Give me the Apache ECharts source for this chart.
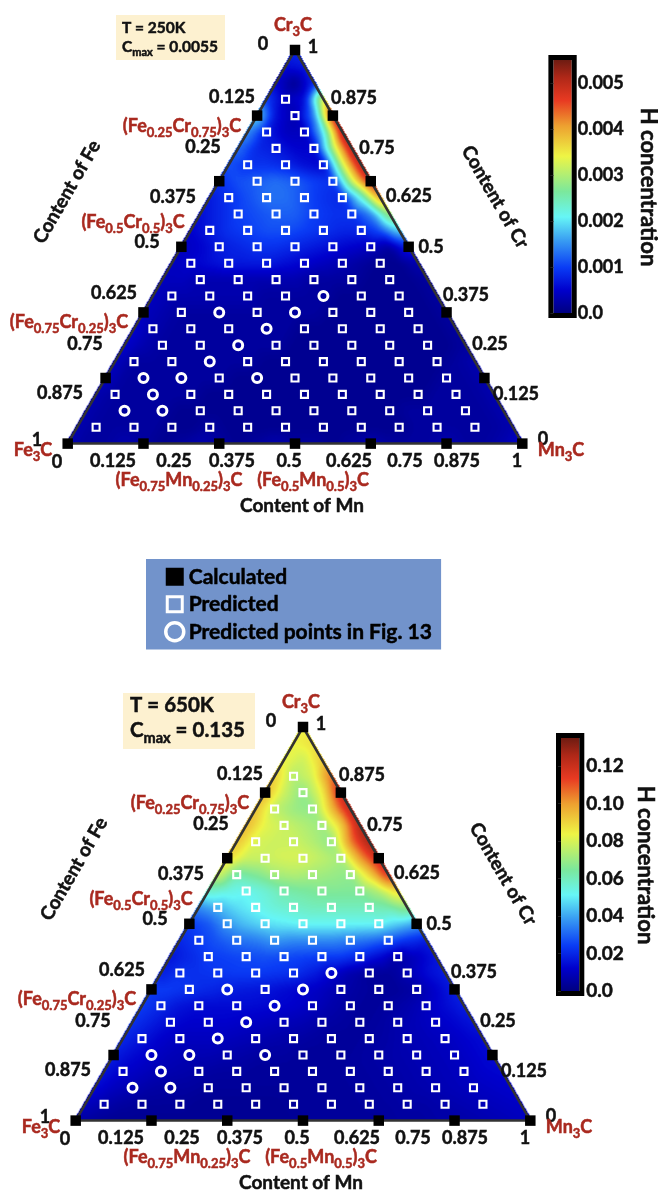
<!DOCTYPE html>
<html>
<head>
<meta charset="utf-8">
<style>html,body{margin:0;padding:0;background:#fff}#c{width:658px;height:1191px}</style>
<script src="https://cdn.jsdelivr.net/npm/echarts@6/dist/echarts.min.js"></script>
</head>
<body>
<div id="c"></div>
<script>
// H concentration at ternary lattice nodes, read by eye. Rows run from Cr = 24/24 (apex) down to Cr = 0,
// each row from Mn = 0 (left edge) to the right edge, step 1/24.
const field250K = [ // units of 1e-4
[8],
[6,7],
[5,1,8],
[10,4,6,36],
[20,6,3,14,50],
[15,7,4,4,20,52],
[13,8,7,5,5,30,52],
[11,9,9,8,6,5,32,52],
[9,11,12,13,12,10,9,32,50],
[7,9,11,13,13,11,9,8,22,42],
[6,8,10,11,12,12,10,9,9,14,30],
[5,7,9,10,11,11,10,9,8,8,11,20],
[4,5,7,8,9,9,8,7,6,5,4,2,8],
[4,5,6,7,7,7,6,5,4,3,2,1,1,3],
[4,4,3,3,3,3,3,3,2,2,2,1,1,1,2],
[4,3,3,3,3,3,2,2,2,2,1,1,1,1,1,2],
[4,3,2,2,2,2,2,2,2,2,1,1,1,1,1,1,2],
[5,3,2,2,2,2,2,2,2,1,1,1,1,1,1,1,1,2],
[5,3,2,2,2,2,2,2,2,1,1,1,1,1,1,1,1,1,2],
[4,2,2,2,2,2,2,2,1,1,1,1,1,1,1,1,1,1,2,3],
[4,2,2,2,2,2,2,1,1,1,1,1,1,1,1,1,1,1,2,2,3],
[3,2,2,2,2,2,1,1,1,1,1,1,1,1,1,1,1,1,2,2,2,3],
[3,2,2,2,2,1,1,1,1,1,1,1,1,1,1,1,1,2,2,2,2,2,3],
[3,2,2,2,2,1,1,2,1,1,1,1,1,1,1,1,1,1,2,2,2,2,2,3],
[3,2,2,3,2,1,2,3,2,1,2,3,2,2,1,2,3,2,2,2,3,2,2,3,5]
];
const field650K = [ // units of 1e-3
[84],
[84,88],
[84,78,92],
[92,74,80,108],
[96,78,68,84,122],
[94,76,70,68,94,124],
[96,82,78,74,70,90,126],
[94,80,78,78,74,68,104,128],
[90,78,78,80,80,76,72,100,122],
[80,62,66,72,74,72,70,68,90,118],
[58,54,52,56,62,64,66,66,66,74,90],
[36,42,48,52,56,58,60,60,60,60,62,70],
[24,28,38,44,48,50,52,52,52,52,52,46,40],
[20,24,28,32,34,38,36,36,36,34,32,28,22,18],
[16,20,24,25,26,27,26,25,24,24,20,14,6,10,16],
[18,22,22,23,24,24,23,22,18,12,7,4,4,8,14,18],
[24,24,22,20,18,17,16,14,12,10,7,5,4,4,6,12,18],
[24,20,16,14,14,14,14,13,12,10,7,5,4,5,7,10,14,18],
[22,18,14,12,12,12,11,10,9,8,6,5,4,5,7,9,11,13,16],
[20,16,12,10,10,10,9,8,7,6,5,4,4,5,6,8,9,10,12,14],
[18,14,11,9,8,8,7,6,5,5,4,4,4,5,6,7,8,9,10,12,14],
[16,12,10,8,7,6,5,5,4,4,4,4,4,5,5,6,7,8,9,10,12,13],
[14,10,8,6,5,5,4,4,4,4,4,4,4,4,5,5,6,7,8,9,10,11,12],
[10,7,5,4,4,4,3,3,3,3,3,4,4,4,4,5,5,6,6,7,8,9,10,11],
[6,4,3,3,3,3,3,3,3,3,3,3,4,4,4,4,4,5,5,6,6,7,8,9,10]
];
// Compositions in 1/24 units: [Cr, list of Mn]
const predictedRows = [
[1,[1,3,5,7,9,11,13,15,17,19,21]],
[2,[2,4,6,8,10,12,14,16,18,20]],
[3,[1,3,5,7,9,11,13,15,17,19]],
[4,[2,4,6,8,10,12,14,16,18]],
[5,[1,3,5,7,9,11,13,15,17]],
[6,[2,4,6,8,10,12,14,16]],
[7,[1,3,5,7,9,11,13,15]],
[8,[2,4,6,8,10,12,14]],
[9,[1,3,5,7,9,11,13]],
[10,[2,4,6,8,10,12]],
[11,[1,3,5,7,9,11]],
[12,[2,4,6,8,10]],
[13,[1,3,5,7,9]],
[14,[2,4,6,8]],
[15,[1,3,5,7]],
[16,[2,4,6]],
[17,[1,3,5]],
[18,[2,4]],
[19,[1,3]],
[20,[2]],
[21,[1]]
];
const fig13Points = [[2,2],[4,2],[3,3],[2,4],[4,4],[8,4],[5,5],[6,6],[7,7],[4,8],[8,8],[9,9]]; // [Mn, Cr]
const calculatedPoints = [ // [Mn, Cr] in 1/24 units
[0,24],[0,20],[0,16],[0,12],[0,8],[0,4],[0,0],
[4,0],[8,0],[12,0],[16,0],[20,0],[24,0],
[20,4],[16,8],[12,12],[8,16],[4,20]
];
const triangleEdge = [[0,0],[24,0],[0,24],[0,0]]; // [Mn, Cr]
const colorTicks250 = 0.001, colorMax250 = 0.0055;
const colorTicks650 = 0.02, colorMax650 = 0.135;
const fractionLabels = ['0.125','0.25','0.375','0.5','0.625','0.75','0.875'];

const RED = '#a9291f', FONT = 'Lato', FAT = 0.5;
const stops = [[0,'#000080'],[0.09,'#0000cc'],[0.18,'#0a3cf5'],[0.29,'#3aa0f2'],[0.38,'#66f6f6'],
  [0.48,'#7be89c'],[0.62,'#eef545'],[0.74,'#eda030'],[0.84,'#e83a22'],[0.93,'#b02818'],[1,'#6e1c12']];
const palette = [];
for (let i = 0; i <= 255; i++) {
  const t = i / 255; let k = 0;
  while (k < stops.length - 2 && t > stops[k + 1][0]) k++;
  palette.push(echarts.color.parse(echarts.color.lerp((t - stops[k][0]) / (stops[k + 1][0] - stops[k][0]), [stops[k][1], stops[k + 1][1]])));
}
const ternary = (mn, cr) => [(mn + cr / 2) / 24, cr / 24];

function nodes(field, fullScale) {
  const out = [];
  field.forEach((row, i) => row.forEach((v, m) => { const p = ternary(m, 24 - i); out.push([p[0], p[1], v / fullScale]); }));
  return out;
}
function fieldImage(field, fullScale, w, h) {
  const val = new Float32Array(w * h), mask = new Float32Array(w * h);
  const at = (r, m) => field[24 - r][m] / fullScale;
  for (let py = 0; py < h; py++) for (let px = 0; px < w; px++) {
    const fy = 1 - (py + 0.5) / h, fx = (px + 0.5) / w;
    let cr = fy * 24, mn = (fx - fy / 2) * 24;
    const inside = mn > -0.12 && cr > -0.12 && (24 - cr - mn) > -0.12;
    if (!inside) continue;
    cr = Math.max(0, Math.min(24, cr)); mn = Math.max(0, Math.min(24 - cr, mn));
    let r = Math.min(23, Math.floor(cr)), m = Math.floor(mn);
    if (m > 23 - r) m = 23 - r;
    const u = mn - m, v = cr - r;
    let z;
    if (u + v <= 1 || m + 1 + r + 1 > 24) z = at(r, m) * (1 - u - v) + at(r, m + 1) * u + at(r + 1, m) * v;
    else z = at(r + 1, m + 1) * (u + v - 1) + at(r + 1, m) * (1 - u) + at(r, m + 1) * (1 - v);
    val[py * w + px] = z; mask[py * w + px] = 1;
  }
  // soften lattice facets: normalised box blur inside the triangle
  const RAD = 3, PASSES = 3;
  let V = val.slice(), W = mask.slice();
  const blur = (A, horizontal) => {
    const B = new Float32Array(w * h), n = horizontal ? w : h, lines = horizontal ? h : w;
    for (let l = 0; l < lines; l++) {
      let s = 0; const idx = k => horizontal ? l * w + k : k * w + l;
      for (let k = -RAD; k <= RAD; k++) s += A[idx(Math.max(0, Math.min(n - 1, k)))];
      for (let k = 0; k < n; k++) {
        B[idx(k)] = s / (2 * RAD + 1);
        s += A[idx(Math.min(n - 1, k + RAD + 1))] - A[idx(Math.max(0, k - RAD))];
      }
    }
    return B;
  };
  for (let p = 0; p < PASSES; p++) { V = blur(blur(V, true), false); W = blur(blur(W, true), false); }
  const cv = document.createElement('canvas'); cv.width = w; cv.height = h;
  const ctx = cv.getContext('2d'), img = ctx.createImageData(w, h);
  for (let i = 0; i < w * h; i++) {
    if (!mask[i]) continue;
    const c = palette[Math.round(Math.max(0, Math.min(1, V[i] / Math.max(W[i], 1e-4))) * 255)];
    img.data[4 * i] = c[0]; img.data[4 * i + 1] = c[1]; img.data[4 * i + 2] = c[2]; img.data[4 * i + 3] = 255;
  }
  ctx.putImageData(img, 0, 0);
  return cv;
}
function renderField(field, fullScale) {
  return (params, api) => {
    if (params.dataIndex !== 0) return null;
    const a = api.coord([0, 1]), b = api.coord([1, 0]);
    const w = Math.round(b[0] - a[0]), h = Math.round(b[1] - a[1]);
    return { type: 'image', silent: true, style: { image: fieldImage(field, fullScale, w, h), x: a[0], y: a[1], width: b[0] - a[0], height: b[1] - a[1] } };
  };
}
function renderBar(params, api) {
  const a = api.coord([0, api.value(1)]), b = api.coord([1, 0]);
  const gradStops = stops.map(s => ({ offset: 1 - s[0], color: s[1] }));
  return { type: 'group', children: [
    { type: 'rect', shape: { x: a[0], y: a[1], width: b[0] - a[0], height: b[1] - a[1] },
      style: { fill: new echarts.graphic.LinearGradient(0, 0, 0, 1, gradStops) } },
    { type: 'rect', shape: { x: a[0] - 2.5, y: a[1] - 2.5, width: b[0] - a[0] + 5, height: b[1] - a[1] + 5 },
      style: { fill: 'none', stroke: '#000', lineWidth: 5 } }
  ] };
}
const isFig13 = (m, r) => fig13Points.some(p => p[0] === m && p[1] === r);
const predictedData = [];
predictedRows.forEach(([r, list]) => list.forEach(m => { if (!isFig13(m, r)) predictedData.push(ternary(m, r)); }));
const circleData = fig13Points.map(p => ternary(p[0], p[1]));
const calcData = calculatedPoints.map(p => ternary(p[0], p[1]));
const edgeData = triangleEdge.map(p => ternary(p[0], p[1]));

const panels = [
  { left: 67.7, top: 50, field: field250K, scale: 55 },
  { left: 75.7, top: 727, field: field650K, scale: 135 }
];
const grid = [], xAxis = [], yAxis = [], series = [];
panels.forEach((p, i) => {
  grid.push({ left: p.left, top: p.top, width: 454.6, height: 393.6 });
  xAxis.push({ type: 'value', gridIndex: i, min: 0, max: 1, show: false });
  yAxis.push({ type: 'value', gridIndex: i, min: 0, max: 1, show: false });
  const ax = { xAxisIndex: i, yAxisIndex: i };
  series.push({ type: 'custom', ...ax, z: 1, silent: true, progressive: 0, animation: false, clip: false,
    renderItem: renderField(p.field, p.scale), encode: { x: 0, y: 1 }, data: nodes(p.field, p.scale) });
  series.push({ type: 'line', ...ax, z: 2, silent: true, data: edgeData, showSymbol: false, clip: false,
    lineStyle: { color: '#333', width: 2.5 } });
  series.push({ type: 'scatter', ...ax, z: 3, name: 'Predicted', data: predictedData, symbol: 'rect', symbolSize: 7, clip: false,
    itemStyle: { color: 'transparent', borderColor: '#fff', borderWidth: 2.1, opacity: 1 } });
  series.push({ type: 'scatter', ...ax, z: 3, name: 'Predicted points in Fig. 13', data: circleData, symbol: 'circle', symbolSize: 9, clip: false,
    itemStyle: { color: 'transparent', borderColor: '#fff', borderWidth: 3, opacity: 1 } });
  series.push({ type: 'scatter', ...ax, z: 4, name: 'Calculated', data: calcData, symbol: 'rect', symbolSize: 10.5, clip: false,
    itemStyle: { color: '#000', opacity: 1 } });
});
// colour bars
[
  { left: 553.4, top: 60, width: 18.3, height: 253, max: colorMax250, step: colorTicks250, dec: 3, font: 18, margin: 6 },
  { left: 561, top: 738, width: 18.3, height: 253, max: colorMax650, step: colorTicks650, dec: 2, font: 19, margin: 7 }
].forEach((b, k) => {
  const i = k + 2;
  grid.push({ left: b.left, top: b.top, width: b.width, height: b.height });
  xAxis.push({ type: 'value', gridIndex: i, min: 0, max: 1, show: false });
  yAxis.push({ type: 'value', gridIndex: i, min: 0, max: b.max, interval: b.step, position: 'right', z: 6,
    splitLine: { show: false }, axisLine: { show: false },
    axisTick: { show: true, inside: true, length: 3, lineStyle: { color: '#222', width: 1 } },
    axisLabel: { showMaxLabel: false, margin: b.margin, color: '#111', fontFamily: FONT, fontWeight: 'bold', fontSize: b.font,
      textBorderColor: '#111', textBorderWidth: FAT,
      formatter: v => v === 0 ? '0.0' : v.toFixed(b.dec) } });
  series.push({ type: 'custom', xAxisIndex: i, yAxisIndex: i, z: 2, silent: true, clip: false, animation: false,
    renderItem: renderBar, encode: { x: 0, y: 1 }, data: [[0, b.max]] });
});

// text
const rich = (size, subSize, color) => ({
  m: { fontSize: size, fontWeight: 'bold', fontFamily: FONT, fill: color, stroke: color, lineWidth: FAT, padding: [0, 0, Math.round(size * 0.22), 0], verticalAlign: 'bottom' },
  s: { fontSize: subSize, fontWeight: 'bold', fontFamily: FONT, fill: color, stroke: color, lineWidth: FAT, verticalAlign: 'bottom' }
});
const txt = (x, y, text, o = {}) => ({ type: 'text', x, y, rotation: o.rot || 0, z: 20, silent: true,
  style: { text, fontFamily: FONT, fontWeight: 'bold', fontSize: o.size || 18, fill: o.color || '#111', stroke: o.color || '#111', lineWidth: FAT, align: o.align || 'center', verticalAlign: 'middle' } });
const red = (x, y, text) => ({ type: 'text', x, y, z: 20, silent: true,
  style: { text, rich: rich(18, 13, RED), align: 'center', verticalAlign: 'middle' } });
const chem = {
  cr: '{m|Cr}{s|3}{m|C}', fe: '{m|Fe}{s|3}{m|C}', mn: '{m|Mn}{s|3}{m|C}',
  f25c: '{m|(Fe}{s|0.25}{m|Cr}{s|0.75}{m|)}{s|3}{m|C}', f5c: '{m|(Fe}{s|0.5}{m|Cr}{s|0.5}{m|)}{s|3}{m|C}', f75c: '{m|(Fe}{s|0.75}{m|Cr}{s|0.25}{m|)}{s|3}{m|C}',
  f75m: '{m|(Fe}{s|0.75}{m|Mn}{s|0.25}{m|)}{s|3}{m|C}', f5m: '{m|(Fe}{s|0.5}{m|Mn}{s|0.5}{m|)}{s|3}{m|C}'
};
const graphic = [];
function panelText(dx, dy) {
  const L = fractionLabels;
  const T = (x, y, s, o) => graphic.push(txt(x + dx, y + dy, s, o));
  const R = (x, y, s) => graphic.push(red(x + dx, y + dy, s));
  R(293, 27, chem.cr); T(263, 44, '0'); T(313, 47, '1');
  T(232, 97, L[0]); T(203, 147, L[1]); T(173, 197, L[2]); T(147, 242, L[3]); T(114, 293, L[4]); T(85, 344, L[5]); T(60, 393, L[6]);
  T(37, 440, '1'); R(33, 452, chem.fe); T(57, 462, '0');
  T(113, 461, L[0]); T(174, 461, L[1]); T(232, 461, L[2]); T(289, 461, L[3]); T(349, 461, L[4]); T(405, 461, L[5]); T(457, 461, L[6]); T(517, 461, '1');
  T(354, 98, L[6]); T(377, 148, L[5]); T(409, 196, L[4]); T(431, 247, L[3]); T(466, 295, L[2]); T(490, 344, L[1]); T(516, 394, L[0]);
  T(543, 439, '0'); R(561, 452, chem.mn);
  R(182, 128, chem.f25c); R(133, 224, chem.f5c); R(69, 324, chem.f75c); R(179, 482, chem.f75m); R(313, 482, chem.f5m);
}
panelText(0, 0); panelText(8, 677);
graphic.push(txt(67, 192, 'Content of Fe', { rot: Math.PI / 3, size: 19 }), txt(495, 197, 'Content of Cr', { rot: -Math.PI / 3, size: 19 }),
  txt(302, 506, 'Content of Mn', { size: 19 }), txt(648, 187, 'H concentration', { rot: -Math.PI / 2, size: 22 }),
  txt(74, 869, 'Content of Fe', { rot: Math.PI / 3, size: 19 }), txt(503, 874, 'Content of Cr', { rot: -Math.PI / 3, size: 19 }),
  txt(301, 1183, 'Content of Mn', { size: 19 }), txt(645, 865, 'H concentration', { rot: -Math.PI / 2, size: 22 }));
// condition boxes
graphic.push({ type: 'rect', z: 15, silent: true, shape: { x: 116, y: 15, width: 109, height: 45 }, style: { fill: '#fdf1d0' } });
graphic.push({ type: 'rect', z: 15, silent: true, shape: { x: 123, y: 693, width: 132, height: 56 }, style: { fill: '#fdf1d0' } });
const boxLine = (x, y, text, size, sub) => ({ type: 'text', x, y, z: 20, silent: true,
  style: { text, rich: rich(size, sub, '#111'), align: 'left', verticalAlign: 'middle' } });
graphic.push(boxLine(122, 29, '{m|T = 250K}', 15.5, 11), boxLine(122, 48, '{m|C}{s|max}{m| = 0.0055}', 15.5, 11));
graphic.push(boxLine(130, 708, '{m|T = 650K}', 20.5, 14.5), boxLine(130, 733, '{m|C}{s|max}{m| = 0.135}', 20.5, 14.5));

const chart = echarts.init(document.getElementById('c'), null, { renderer: 'canvas', width: 658, height: 1191 });
chart.setOption({
  backgroundColor: '#fff',
  animation: false,
  legend: {
    left: 146, top: 559, orient: 'vertical', backgroundColor: '#7293cb', borderRadius: 0,
    padding: [7, 9, 7, 18], itemGap: 6, itemWidth: 18, itemHeight: 18, itemTextGap: 7, selectedMode: false,
    textStyle: { fontFamily: FONT, fontWeight: 'bold', fontSize: 21, color: '#000', textBorderColor: '#000', textBorderWidth: FAT },
    data: [
      { name: 'Calculated', icon: 'rect', itemStyle: { color: '#000', borderWidth: 0, opacity: 1 } },
      { name: 'Predicted', icon: 'path://M0 0H18V18H0Z M3 3V15H15V3Z', itemStyle: { color: '#fff', borderWidth: 0, opacity: 1 } },
      { name: 'Predicted points in Fig. 13', icon: 'circle', itemStyle: { color: 'transparent', borderColor: '#fff', borderWidth: 3.5, opacity: 1 } }
    ]
  },
  grid, xAxis, yAxis, series, graphic
});
</script>
</body>
</html>
